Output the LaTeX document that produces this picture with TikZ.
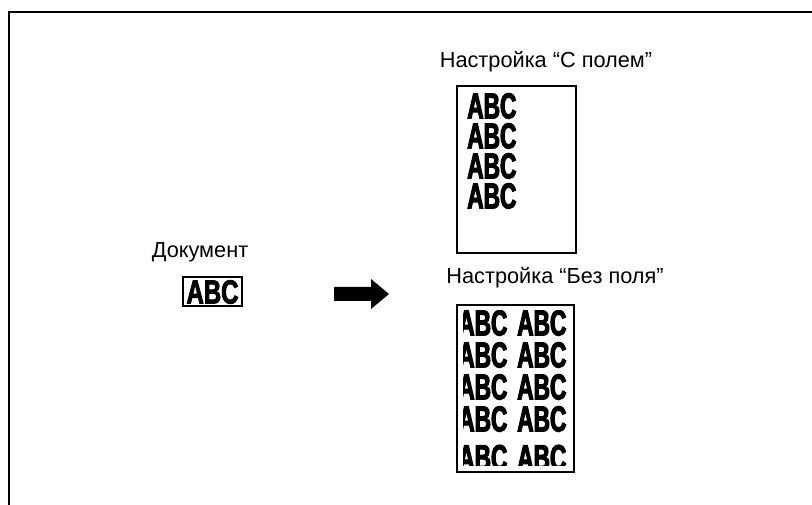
\documentclass[tikz,border=0pt]{standalone}
\usepackage{fontspec}
\setmainfont{Liberation Sans}
\newfontfamily\abcfont[FakeStretch=0.63,FakeBold=3]{Liberation Sans}
\newfontfamily\abcsmallfont[FakeStretch=0.72,FakeBold=2.5]{Liberation Sans}
\newcommand\abcpair{\makebox[44.25pt][l]{ABC}ABC}
\tikzset{
	caption/.style={font=\fontsize{16.3}{18}\selectfont, inner sep=0pt},
	abc/.style={font=\abcfont\bfseries\fontsize{27}{#1}\selectfont, inner sep=0pt, align=left, anchor=north west},
	abcsmall/.style={font=\abcsmallfont\bfseries\fontsize{25}{27}\selectfont, inner sep=0pt},
	sheet/.style={line width=1.1pt},
}
\begin{document}
\begin{tikzpicture}[x=0.75pt, y=-0.75pt, line join=miter]
	\useasboundingbox (0,0) rectangle (812,505);
	% frame
	\draw[line width=1.9pt] (9,505) -- (9,12) -- (812,12);
	% original
	\node[caption] (lbldoc) at (200,252) {Документ};
	\node[abcsmall] (docabc) at (212.5,292) {ABC};
	\draw[line width=1.5pt] (183,277) rectangle (242,306);
	\fill (334,287) -- (371,287) -- (371,279) -- (389,294) -- (371,309) -- (371,301) -- (334,301) -- cycle;
	% with margin
	\node[caption] (lblmargin) at (546,62) {Настройка “С полем”};
	\draw[sheet] (457,86) rectangle (576,253);
	\node[abc=22.5pt] (margintext) at (467,93) {ABC\\ABC\\ABC\\ABC};
	% without margin
	\node[caption] (lblnomargin) at (555,278) {Настройка “Без поля”};
	\draw[sheet] (457,305) rectangle (574,472);
	\begin{scope}
		\clip (463,311) rectangle (568,465);
		\node[abc=24pt] (fulltext) at (458,310) {\abcpair\\\abcpair\\\abcpair\\\abcpair\\[5pt]\abcpair};
	\end{scope}
\end{tikzpicture}
\end{document}
